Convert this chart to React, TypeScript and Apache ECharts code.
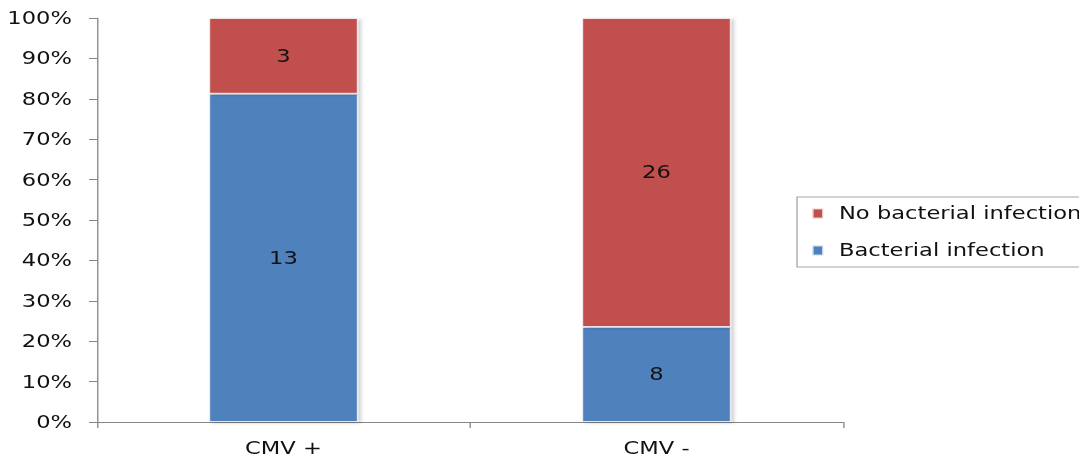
import React, { useEffect, useRef } from "react";
import * as echarts from "echarts";

const categories = ["CMV +", "CMV -"];
const bacterialCounts = [13, 8];
const noBacterialCounts = [3, 26];
const yTicks = [0, 10, 20, 30, 40, 50, 60, 70, 80, 90, 100];

const totals = categories.map((_, i) => bacterialCounts[i] + noBacterialCounts[i]);
const toPct = (arr: number[]) => arr.map((v, i) => (v / totals[i]) * 100);

const FONT = "'DejaVu Sans', Verdana, sans-serif";
const AXIS_GREY = "#868686";
const TEXT = "#111111";

// The chart is laid out in a narrower box and widened with a horizontal
// stretch, which gives the broad lettering of the original figure.
const STRETCH = 1.33;
const BOX_W = 810;
const BOX_H = 451;
const px = (x: number) => x / STRETCH;

export default function App() {
  const ref = useRef<HTMLDivElement>(null);

  useEffect(() => {
    if (!ref.current) return;
    const chart = echarts.init(ref.current, null, { renderer: "svg" });

    const barStyle = (color: string) => ({
      color,
      borderColor: "rgba(255,255,255,0.7)",
      borderWidth: 1,
      shadowColor: "rgba(0,0,0,0.22)",
      shadowBlur: 3,
      shadowOffsetX: 2,
      shadowOffsetY: 1,
    });

    const labelFor = (counts: number[]) => ({
      show: true,
      position: "inside" as const,
      color: TEXT,
      fontFamily: FONT,
      fontSize: 17,
      formatter: (p: any) => String(counts[p.dataIndex]),
    });

    chart.setOption({
      animation: false,
      backgroundColor: "#ffffff",
      grid: {
        left: px(89),
        top: 10,
        width: px(746),
        height: 404,
        containLabel: false,
        outerBoundsMode: "none",
      },
      legend: {
        orient: "vertical",
        left: px(789),
        top: 189,
        data: ["No bacterial infection", "Bacterial infection"],
        itemWidth: px(11),
        itemHeight: 10,
        itemGap: 20,
        padding: [8, 80, 8, px(14)],
        borderColor: "#a6a6a6",
        borderWidth: 1,
        icon: "rect",
        textStyle: { fontFamily: FONT, fontSize: 17, color: TEXT, padding: [0, 0, 0, px(9)] },
      },
      xAxis: {
        type: "category",
        data: categories,
        boundaryGap: true,
        axisLine: { lineStyle: { color: AXIS_GREY, width: 1 } },
        axisTick: { show: true, alignWithLabel: false, length: 6, lineStyle: { color: AXIS_GREY } },
        axisLabel: { fontFamily: FONT, fontSize: 17, color: TEXT, margin: 18 },
      },
      yAxis: {
        type: "value",
        min: yTicks[0],
        max: yTicks[yTicks.length - 1],
        interval: yTicks[1] - yTicks[0],
        axisLine: { show: true, lineStyle: { color: AXIS_GREY, width: 1 } },
        axisTick: { show: true, length: px(8), lineStyle: { color: AXIS_GREY } },
        splitLine: { show: false },
        axisLabel: {
          fontFamily: FONT,
          fontSize: 17,
          color: TEXT,
          margin: px(25),
          formatter: "{value}%",
        },
      },
      series: [
        {
          name: "Bacterial infection",
          type: "bar",
          stack: "total",
          barWidth: "40%",
          data: toPct(bacterialCounts),
          itemStyle: barStyle("#4f81bd"),
          label: labelFor(bacterialCounts),
        },
        {
          name: "No bacterial infection",
          type: "bar",
          stack: "total",
          barWidth: "40%",
          data: toPct(noBacterialCounts),
          itemStyle: barStyle("#c0504d"),
          label: labelFor(noBacterialCounts),
        },
      ],
    });

    return () => chart.dispose();
  }, []);

  return (
    <div
      ref={ref}
      style={{
        width: BOX_W,
        height: BOX_H,
        transform: `scaleX(${STRETCH})`,
        transformOrigin: "0 0",
      }}
    />
  );
}
